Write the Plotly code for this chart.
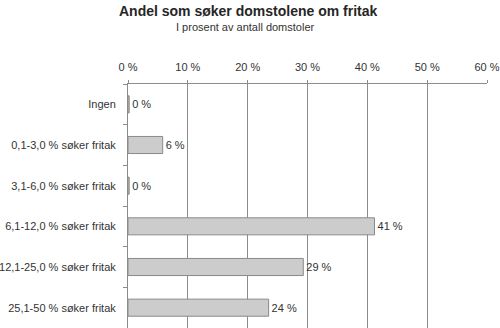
import plotly.graph_objects as go

# Share of courts, by proportion of cases where exemption is sought
categories = [
    "Ingen",
    "0,1-3,0 % søker fritak",
    "3,1-6,0 % søker fritak",
    "6,1-12,0 % søker fritak",
    "12,1-25,0 % søker fritak",
    "25,1-50 % søker fritak",
]
shares = [0.2, 5.8, 0.2, 41.2, 29.3, 23.5]
x_ticks = [0, 10, 20, 30, 40, 50, 60]
x_tick_text = [f"{v} %" for v in x_ticks]

font_family = "Liberation Sans, Arial, sans-serif"

ML, MR, MT, MB = 128, 13, 84, 0
W, H = 500, 328

fig = go.Figure(
    go.Bar(
        x=shares,
        y=categories,
        orientation="h",
        marker=dict(color="#cccccc", line=dict(color="#8a8a8a", width=1)),
        text=[f"{round(v):.0f} %" for v in shares],
        textposition="outside",
        textfont=dict(size=11, color="#333333", family=font_family),
        cliponaxis=False,
        width=0.42,
    )
)


def px_to_paper(px, py):
    return (px - ML) / (W - ML - MR), (H - MB - py) / (H - MT - MB)


tx, ty = px_to_paper(248, 11)
sx, sy = px_to_paper(245.5, 27)

fig.update_layout(
    width=W,
    height=H,
    margin=dict(l=ML, r=MR, t=MT, b=MB),
    paper_bgcolor="white",
    plot_bgcolor="white",
    font=dict(family=font_family, size=11, color="#333333"),
    showlegend=False,
    annotations=[
        dict(text="<b>Andel som søker domstolene om fritak</b>", x=tx, y=ty,
             xref="paper", yref="paper", xanchor="center", yanchor="middle",
             showarrow=False,
             font=dict(size=14, color="#262626", family=font_family)),
        dict(text="I prosent av antall domstoler", x=sx, y=sy,
             xref="paper", yref="paper", xanchor="center", yanchor="middle",
             showarrow=False,
             font=dict(size=11, color="#333333", family=font_family)),
    ],
)

fig.update_xaxes(
    side="top",
    range=[0, 60],
    tickvals=x_ticks,
    ticktext=x_tick_text,
    showgrid=True,
    gridcolor="#8c8c8c",
    gridwidth=1,
    zeroline=False,
    showline=True,
    linecolor="#8c8c8c",
    linewidth=1,
    ticks="outside",
    ticklen=3,
    tickcolor="#8c8c8c",
    ticklabelstandoff=5,
    tickfont=dict(size=11, color="#333333"),
    fixedrange=True,
)
fig.update_yaxes(
    autorange="reversed",
    showgrid=False,
    showline=True,
    linecolor="#8c8c8c",
    linewidth=1,
    ticks="outside",
    tickson="boundaries",
    ticklen=4,
    tickcolor="#8c8c8c",
    ticklabelstandoff=9,
    tickfont=dict(size=11, color="#333333"),
    fixedrange=True,
)

fig.write_html("out.html")
